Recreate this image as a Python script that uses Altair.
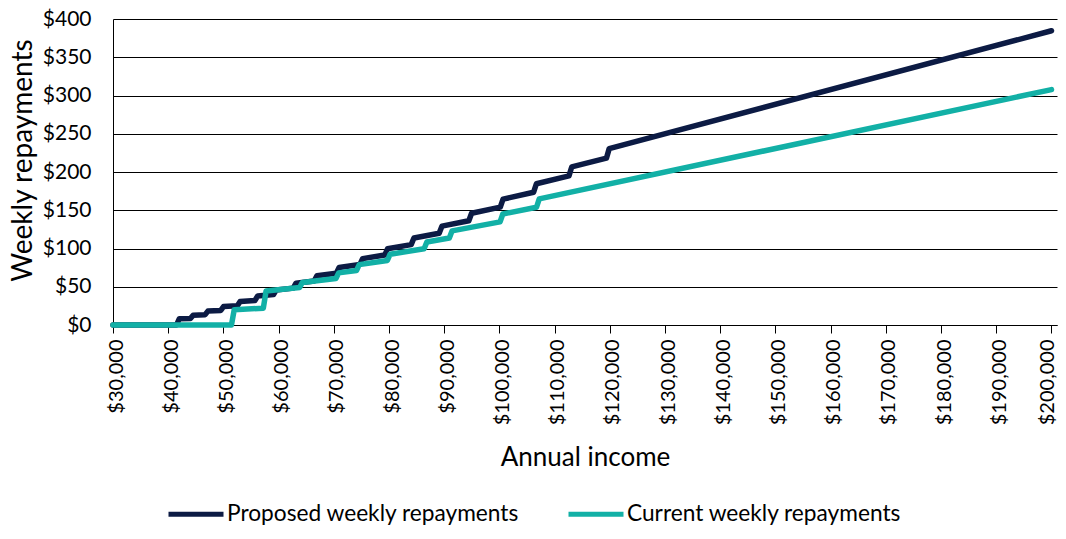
import altair as alt
import pandas as pd

# Proposed weekly repayments (breakpoints)
proposed_income = [30000, 41500, 42000, 44020, 44520, 46691, 47191, 49522, 50022, 52524,
                   53024, 55705, 56205, 59077, 59577, 62652, 63152, 66441, 66941, 70458,
                   70958, 74715, 75215, 79228, 79728, 84012, 84512, 89082, 89582, 94457,
                   94957, 100155, 100655, 106194, 106694, 112595, 113095, 119382, 119882, 200000]
proposed_weekly = [0, 0, 8.08, 8.47, 12.84, 13.47, 18.15, 19.05, 24.05, 25.25,
                   30.59, 32.14, 37.83, 39.76, 45.83, 48.19, 54.65, 57.50, 64.37, 67.75,
                   75.05, 79.03, 86.79, 91.42, 99.66, 105.02, 113.77, 119.92, 129.20, 136.24,
                   146.09, 154.08, 164.53, 173.59, 184.66, 194.88, 206.61, 218.10, 230.54, 384.62]

# Current weekly repayments
current_income = [30000, 51457, 51957, 57230, 57730, 63807, 64307, 70382, 70882, 74108,
                  74608, 79698, 80198, 86355, 86856, 90926, 91426, 100114, 100614, 106713,
                  107214, 200000]
current_weekly = [0, 0, 19.98, 22.01, 44.41, 49.08, 55.65, 60.91, 68.16, 71.26,
                  78.91, 84.30, 92.54, 99.64, 108.57, 113.66, 123.07, 134.77, 145.11, 153.91,
                  164.94, 307.69]

series_names = ["Proposed weekly repayments", "Current weekly repayments"]
series_colors = ["#0C1B44", "#12B0A6"]

x_ticks = list(range(30000, 200001, 10000))
y_ticks = list(range(0, 401, 50))

df_prop = pd.DataFrame({"income": proposed_income, "weekly": proposed_weekly,
                        "series": series_names[0]})
df_curr = pd.DataFrame({"income": current_income, "weekly": current_weekly,
                        "series": series_names[1]})

FONT = "Lato"

x_enc = alt.X("income:Q",
              scale=alt.Scale(domain=[30000, 201000], nice=False, zero=False),
              axis=alt.Axis(values=x_ticks, format="$,.0f", labelAngle=-90,
                            grid=False, ticks=True, tickSize=8, tickColor="#000000",
                            tickWidth=1, domainColor="#000000", domainWidth=1,
                            labelPadding=6, labelFont=FONT, labelFontSize=20,
                            labelColor="#000000", labelOverlap=False,
                            labelOffset={"condition": {"test": "datum.value >= 200000",
                                                       "value": -4},
                                         "value": 3},
                            title="Annual income", titleFont=FONT, titleFontSize=26,
                            titleFontWeight="normal", titleColor="#000000",
                            titleY=140, titleBaseline="alphabetic"))
y_enc = alt.Y("weekly:Q",
              scale=alt.Scale(domain=[0, 400], nice=False),
              axis=alt.Axis(values=y_ticks, format="$,.0f", grid=True,
                            gridColor="#000000", gridWidth=1, ticks=False,
                            domainColor="#000000", domainWidth=1,
                            labelPadding=22, labelFont=FONT, labelFontSize=21,
                            labelColor="#000000",
                            title="Weekly repayments", titleFont=FONT, titleFontSize=28,
                            titleFontWeight="normal", titleColor="#000000",
                            titleX=-82, titleY=141, titleBaseline="alphabetic"))
color_enc = alt.Color("series:N",
                      scale=alt.Scale(domain=series_names, range=series_colors),
                      title=None,
                      legend=alt.Legend(orient="none", legendX=53, legendY=465,
                                        direction="horizontal", columns=2,
                                        symbolType="stroke", symbolSize=3025,
                                        symbolStrokeWidth=5, labelFont=FONT,
                                        labelFontSize=22.7, labelColor="#000000",
                                        labelOffset=1, columnPadding=38, padding=0,
                                        labelLimit=0))

line_kw = dict(strokeWidth=5.5, strokeCap="round", strokeJoin="round")

prop = alt.Chart(df_prop).mark_line(**line_kw).encode(x=x_enc, y=y_enc, color=color_enc)
curr = alt.Chart(df_curr).mark_line(**line_kw).encode(x=x_enc, y=y_enc, color=color_enc)

chart = alt.layer(prop, curr).properties(
    width=944, height=306,
    autosize=alt.AutoSizeParams(type="none"),
    padding={"left": 105, "top": 11, "right": 1, "bottom": 200},
).configure_view(strokeWidth=0)

chart.save("out.html", embed_options={"renderer": "svg", "actions": False})
